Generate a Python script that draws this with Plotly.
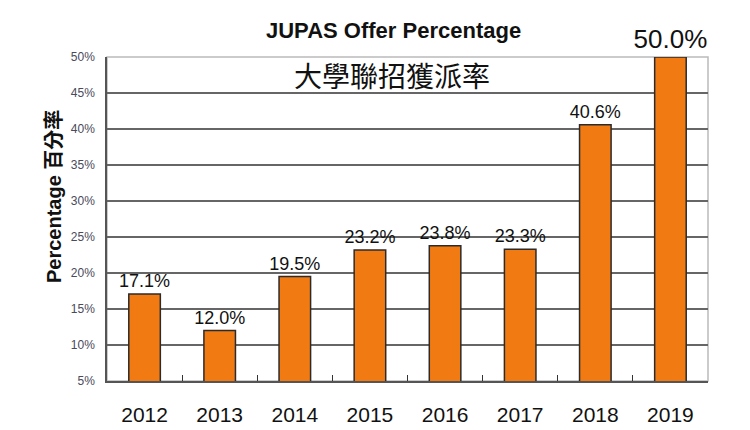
import plotly.graph_objects as go

years = ['2012', '2013', '2014', '2015', '2016', '2017', '2018', '2019']
offer_pct = [17.1, 12.0, 19.5, 23.2, 23.8, 23.3, 40.6, 50.0]
label_sizes = [18, 18, 18, 18, 18, 18, 18, 26]
y_ticks = [5, 10, 15, 20, 25, 30, 35, 40, 45, 50]

fig = go.Figure()
fig.add_trace(go.Bar(
    x=years, y=offer_pct, width=0.42,
    marker=dict(color='#F27A12', line=dict(color='#2b2b2b', width=1.5)),
    text=[f'{v:.1f}%' for v in offer_pct], textposition='outside',
    constraintext='none',
    textfont=dict(family='Arial, Liberation Sans', size=label_sizes, color='#111'),
    cliponaxis=False,
))

fig.update_xaxes(
    showline=True, linecolor='#555', linewidth=1.5, mirror=False,
    ticks='inside', tickson='boundaries', ticklen=6, tickcolor='#333',
    tickfont=dict(family='Arial, Liberation Sans', size=21, color='#111'),
    ticklabelstandoff=14,
)
fig.update_yaxes(
    range=[5, 50], tickvals=y_ticks, ticktext=[f'{t}%' for t in y_ticks],
    showgrid=True, gridcolor='#666', gridwidth=1.5,
    showline=True, linecolor='#555', linewidth=1.5, zeroline=False,
    tickfont=dict(family='Arial, Liberation Sans', size=12, color='#4a4a5a'),
    ticklabelstandoff=8,
)

fig.add_shape(type='rect', xref='paper', yref='paper', x0=0, x1=1, y0=0, y1=1,
              line=dict(color='#bbb', width=1.5), layer='below')

# page body adds an 8px offset, so the margins are shifted to compensate
fig.add_annotation(text='<b>JUPAS Offer Percentage</b>', xref='paper', yref='paper',
                   x=0.477, y=1.0, xanchor='center', yanchor='middle', showarrow=False,
                   font=dict(family='Arial, Liberation Sans', size=22, color='#111'),
                   yshift=27)
fig.add_annotation(text='大學聯招獲派率', xref='paper', yref='paper',
                   x=0.475, y=1.0, xanchor='center', yanchor='middle', showarrow=False,
                   font=dict(family='Noto Sans CJK TC', size=28, color='#111'),
                   yshift=-18)
fig.add_annotation(text='<b>Percentage 百分率</b>', xref='paper', yref='paper',
                   x=-0.088, y=0.568, xanchor='center', yanchor='middle', showarrow=False,
                   textangle=-90,
                   font=dict(family='Arial, Noto Sans CJK TC', size=20, color='#111'))

fig.update_layout(
    width=750, height=430, showlegend=False,
    margin=dict(l=99, r=50, t=49, b=57),
    plot_bgcolor='white', paper_bgcolor='white',
)

fig.write_html('out.html')
